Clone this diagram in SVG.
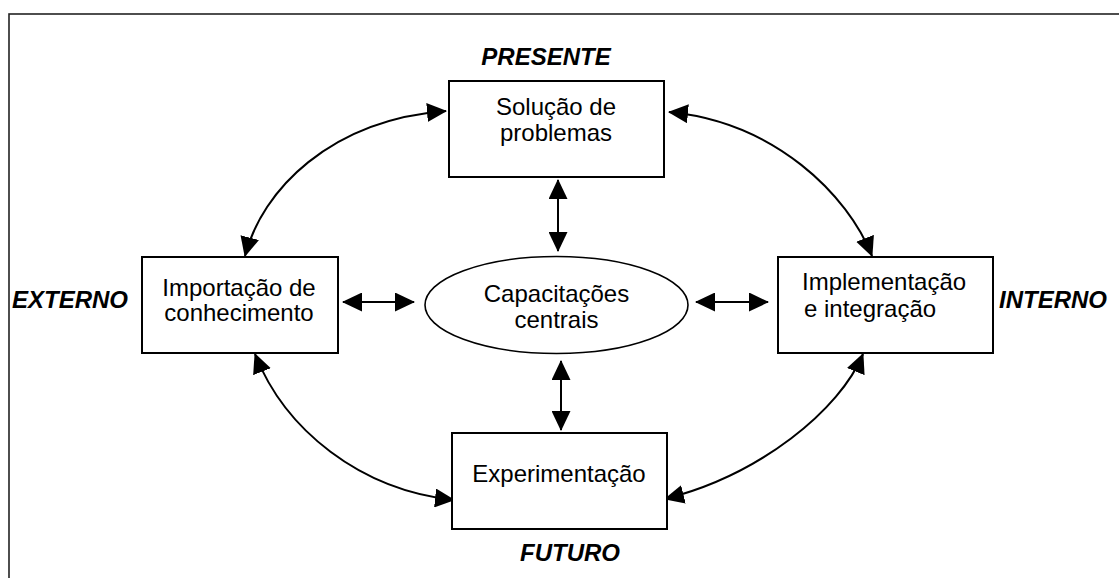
<svg xmlns="http://www.w3.org/2000/svg" width="1119" height="578" viewBox="0 0 1119 578">
<style>
.box{fill:#fff;stroke:#000;stroke-width:2}
.ell{fill:#fff;stroke:#000;stroke-width:1.6}
.t{font-family:"Liberation Sans",Arial,sans-serif;font-size:24px;fill:#000;text-anchor:middle}
.lab{font-family:"Liberation Sans",Arial,sans-serif;font-size:24px;font-weight:bold;font-style:italic;fill:#000;text-anchor:middle}
.con{fill:none;stroke:#000;stroke-width:2;marker-start:url(#ah);marker-end:url(#ah)}
</style>
<defs>
<marker id="ah" viewBox="0 0 20 19" refX="19" refY="9.5" markerWidth="20" markerHeight="19" markerUnits="userSpaceOnUse" orient="auto-start-reverse">
<path d="M0,0 L20,9.5 L0,19 z" fill="#000"/>
</marker>
</defs>
<rect x="0" y="0" width="1119" height="578" fill="#fff"/>
<rect x="9" y="14" width="1130" height="600" fill="none" stroke="#222" stroke-width="1.6"/>
<g id="connectors">
<path class="con" d="M245,256 C262,190 330,120 446,111"/>
<path class="con" d="M669,112 C775,122 848,195 872,256"/>
<path class="con" d="M255,354 C285,430 360,490 454,500"/>
<path class="con" d="M863,354 C840,410 760,475 665,499"/>
<path class="con" d="M558,180 L558,251"/>
<path class="con" d="M561,361 L561,430"/>
<path class="con" d="M343,302 L414,302"/>
<path class="con" d="M696,302 L768,302"/>
</g>
<g id="solucao">
<rect class="box" x="449" y="81" width="215" height="96"/>
<text class="t" x="556" y="115">Solução de</text>
<text class="t" x="556" y="141">problemas</text>
</g>
<g id="importacao">
<rect class="box" x="142" y="257" width="196" height="96"/>
<text class="t" x="239" y="296">Importação de</text>
<text class="t" x="239" y="321">conhecimento</text>
</g>
<g id="capacitacoes">
<ellipse class="ell" cx="556.5" cy="305" rx="131.5" ry="48.5"/>
<text class="t" x="556.5" y="302">Capacitações</text>
<text class="t" x="556.5" y="328">centrais</text>
</g>
<g id="implementacao">
<rect class="box" x="778" y="257" width="215" height="96"/>
<text class="t" x="802" y="290" style="text-anchor:start">Implementação</text>
<text class="t" x="804" y="316.5" style="text-anchor:start">e integração</text>
</g>
<g id="experimentacao">
<rect class="box" x="452" y="433" width="215" height="96"/>
<text class="t" x="559" y="482">Experimentação</text>
</g>
<g id="labels">
<text class="lab" x="546" y="65">PRESENTE</text>
<text class="lab" x="70" y="308">EXTERNO</text>
<text class="lab" x="1053" y="308">INTERNO</text>
<text class="lab" x="570" y="561">FUTURO</text>
</g>
</svg>
